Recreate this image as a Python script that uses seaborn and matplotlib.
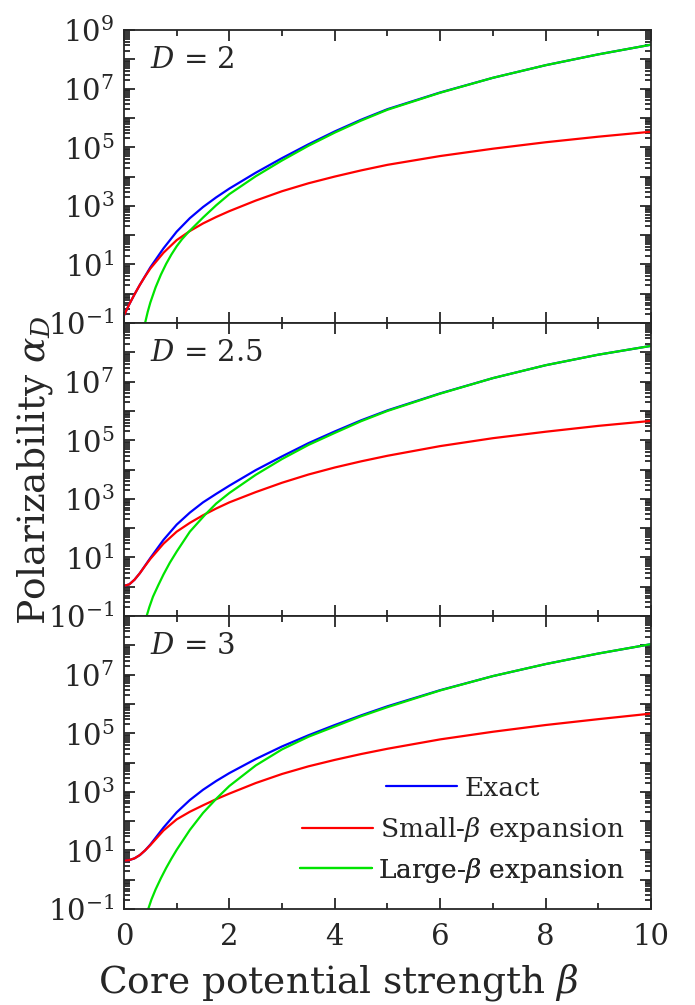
"""
Polarizability vs core potential strength for D = 2, 2.5, 3.
Three stacked log-scale panels, exact result vs small/large-beta expansions.
"""

import numpy as np
import pandas as pd
import matplotlib
matplotlib.use("Agg")
import matplotlib.pyplot as plt
import matplotlib.ticker as mtick
from matplotlib.lines import Line2D
import seaborn as sns

# values are log10(alpha_D)
BETA = [0, 0.1, 0.2, 0.3, 0.4, 0.5, 0.75, 1, 1.25, 1.5, 1.75, 2, 2.5, 3,
        3.5, 4, 4.5, 5, 6, 7, 8, 9, 10]

EXACT_D2 = [-0.74, -0.36, -0.02, 0.3, 0.6, 0.9, 1.55, 2.12, 2.58, 2.96, 3.29,
            3.59, 4.13, 4.63, 5.1, 5.54, 5.94, 6.3, 6.87, 7.37, 7.8, 8.17,
            8.5]
SMALL_D2 = [-0.74, -0.36, -0.02, 0.3, 0.59, 0.86, 1.4, 1.83, 2.14, 2.4,
            2.62, 2.82, 3.18, 3.5, 3.77, 4.0, 4.21, 4.4, 4.7, 4.95, 5.17,
            5.36, 5.53]
LARGE_BETA_D2 = [0.36, 0.4, 0.45, 0.5, 0.6, 0.7, 0.8, 0.9, 1.0, 1.1, 1.22,
                 1.5, 1.75, 2, 2.5, 3, 3.5, 4, 4.5, 5, 6, 7, 8, 9, 10]
LARGE_D2 = [-1.35, -1.0, -0.62, -0.3, 0.22, 0.65, 1.02, 1.34, 1.62, 1.86,
            2.1, 2.6, 3.02, 3.4, 4.01, 4.55, 5.05, 5.5, 5.91, 6.28, 6.86,
            7.37, 7.8, 8.17, 8.5]

EXACT_D25 = [0.03, 0.08, 0.24, 0.46, 0.72, 0.98, 1.6, 2.12, 2.53, 2.88,
             3.17, 3.45, 3.98, 4.45, 4.9, 5.3, 5.68, 6.02, 6.6, 7.12, 7.56,
             7.92, 8.22]
SMALL_D25 = [0.03, 0.08, 0.24, 0.46, 0.71, 0.95, 1.47, 1.88, 2.18, 2.44,
             2.67, 2.88, 3.23, 3.55, 3.83, 4.07, 4.28, 4.47, 4.8, 5.07, 5.29,
             5.49, 5.66]
LARGE_BETA_D25 = [0.39, 0.43, 0.48, 0.55, 0.65, 0.75, 0.87, 1.0, 1.25, 1.54,
                  1.75, 2, 2.5, 3, 3.5, 4, 4.5, 5, 6, 7, 8, 9, 10]
LARGE_D25 = [-1.25, -1.0, -0.7, -0.34, 0.05, 0.42, 0.82, 1.2, 1.88, 2.46,
             2.84, 3.2, 3.82, 4.36, 4.84, 5.25, 5.65, 6.0, 6.59, 7.12, 7.56,
             7.92, 8.22]

EXACT_D3 = [0.65, 0.67, 0.73, 0.84, 1.0, 1.2, 1.78, 2.3, 2.72, 3.07, 3.37,
            3.64, 4.12, 4.55, 4.93, 5.28, 5.61, 5.92, 6.47, 6.95, 7.36, 7.72,
            8.04]
SMALL_D3 = [0.65, 0.67, 0.73, 0.84, 1.0, 1.18, 1.68, 2.06, 2.32, 2.54, 2.75,
            2.94, 3.3, 3.61, 3.87, 4.09, 4.29, 4.47, 4.79, 5.05, 5.28, 5.48,
            5.67]
LARGE_BETA_D3 = [0.42, 0.46, 0.52, 0.6, 0.7, 0.8, 0.9, 1.0, 1.25, 1.5, 1.76,
                 2, 2.5, 3, 3.5, 4, 4.5, 5, 6, 7, 8, 9, 10]
LARGE_D3 = [-1.25, -1.0, -0.68, -0.33, 0.05, 0.4, 0.72, 1.02, 1.7, 2.28,
            2.78, 3.2, 3.9, 4.45, 4.88, 5.23, 5.58, 5.89, 6.46, 6.95, 7.36,
            7.72, 8.04]

PANELS = ["2", "2.5", "3"]
CURVES = ["Exact", "Small", "Large"]
LEGEND_TEXT = ["Exact", r"Small-$\beta$ expansion", r"Large-$\beta$ expansion"]
COLOURS = {"Exact": "#0000ff", "Small": "#ff0000", "Large": "#00e400"}

sns.set_theme(style="ticks")
plt.rcParams["font.family"] = ["DejaVu Serif"]
plt.rcParams["mathtext.fontset"] = "dejavuserif"
plt.rcParams["axes.linewidth"] = 1.3


def _frame(d, beta_small, exact, small, beta_large, large):
    rows = []
    for b, e, s in zip(beta_small, exact, small):
        rows.append((d, "Exact", b, 10 ** e))
        rows.append((d, "Small", b, 10 ** s))
    for b, g in zip(beta_large, large):
        rows.append((d, "Large", b, 10 ** g))
    return pd.DataFrame(rows, columns=["D", "curve", "beta", "alpha"])


df = pd.concat([
    _frame("2", BETA, EXACT_D2, SMALL_D2, LARGE_BETA_D2, LARGE_D2),
    _frame("2.5", BETA, EXACT_D25, SMALL_D25, LARGE_BETA_D25, LARGE_D25),
    _frame("3", BETA, EXACT_D3, SMALL_D3, LARGE_BETA_D3, LARGE_D3),
], ignore_index=True)


def _log_label(top_label):
    def fmt(v, pos):
        e = int(round(np.log10(v)))
        if e % 2 == 0 or (e == 9 and not top_label):
            return ""
        return r"$10^{%d}$" % e
    return mtick.FuncFormatter(fmt)


fig, axes = plt.subplots(3, 1, figsize=(6.95, 10.05), dpi=100, sharex=True)
fig.subplots_adjust(left=0.1784, right=0.9367, top=0.9701, bottom=0.0955,
                    hspace=0)

for i, (ax, d) in enumerate(zip(axes, PANELS)):
    sub = df[df["D"] == d]
    sns.lineplot(data=sub, x="beta", y="alpha", hue="curve",
                 hue_order=CURVES, palette=COLOURS, estimator=None,
                 sort=False, legend=False, lw=1.6, ax=ax)
    ax.set_yscale("log")
    ax.set(xlim=(0, 10), ylim=(1e-1, 1e9), xlabel="", ylabel="")
    ax.yaxis.set_major_locator(mtick.LogLocator(base=10, numticks=20))
    ax.yaxis.set_minor_locator(mtick.LogLocator(base=10, subs=np.arange(2, 10),
                                                numticks=20))
    ax.yaxis.set_major_formatter(_log_label(i == 0))
    ax.yaxis.set_minor_formatter(mtick.NullFormatter())
    ax.xaxis.set_major_locator(mtick.MultipleLocator(2))
    ax.xaxis.set_minor_locator(mtick.MultipleLocator(1))
    ax.tick_params(which="both", direction="in", top=True, right=True,
                   width=1.3, labelsize=21)
    ax.tick_params(which="major", length=8, pad=7)
    ax.tick_params(which="minor", length=4)
    ax.text(0.05, 0.945, f"$D$ = {d}", transform=ax.transAxes,
            fontsize=21, va="top", ha="left")

# entries in the reference legend are each centred, so one legend per row
ax = axes[2]
for curve, label, y in zip(CURVES, LEGEND_TEXT, [0.413, 0.27, 0.133]):
    handle = Line2D([], [], color=COLOURS[curve], lw=1.6)
    leg = ax.legend([handle], [label], loc="center",
                    bbox_to_anchor=(0.643, y), frameon=False, fontsize=19,
                    handlelength=2.7, handletextpad=0.25,
                    borderpad=0, borderaxespad=0)
    ax.add_artist(leg)

axes[2].tick_params(axis="x", pad=10)
fig.text(0.487, 0.012, r"Core potential strength $\beta$", fontsize=27,
         ha="center", va="baseline")
fig.text(0.05, 0.532, r"Polarizability $\alpha_D$", fontsize=27,
         ha="center", va="center", rotation=90)

fig.savefig("out.png", dpi=100, facecolor="white")
